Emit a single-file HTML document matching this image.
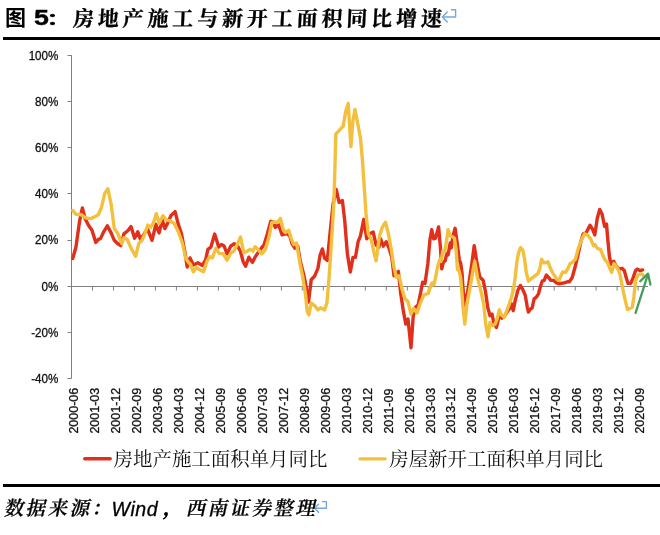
<!DOCTYPE html>
<html lang="zh"><head><meta charset="utf-8"><title>图 5</title>
<style>
html,body{margin:0;padding:0;background:#fff;}
body{width:660px;height:535px;position:relative;overflow:hidden;font-family:"Liberation Sans","Noto Sans CJK SC",sans-serif;}
.title{position:absolute;left:0;top:3px;height:30px;line-height:30px;white-space:nowrap;color:#000;}
.title span{position:absolute;top:0;}
.title .fig.five{font-size:22.3px;top:0.3px;transform:scaleX(1.2);transform-origin:0 50%;-webkit-text-stroke:0.4px #000;letter-spacing:0;}
.title .fig{font-family:"Liberation Sans","Noto Sans CJK SC",sans-serif;font-weight:bold;font-size:20px;letter-spacing:1.5px;}
.title .kai{font-family:"Liberation Serif","Noto Serif CJK SC",serif;font-weight:bold;font-size:21px;letter-spacing:3.85px;display:inline-block;transform:skewX(-3deg);transform-origin:0 50%;-webkit-text-stroke:0.3px #000;}
.rule{position:absolute;left:3px;right:0;height:2.8px;background:#000;}
.src{position:absolute;left:0;top:495px;height:28px;line-height:28px;white-space:nowrap;color:#000;font-family:"Liberation Serif","Noto Serif CJK SC",serif;font-size:19.5px;font-weight:600;letter-spacing:2.4px;}
.src span{position:absolute;top:0;}
.src .k{display:inline-block;transform:skewX(-12deg);transform-origin:0 50%;-webkit-text-stroke:0.25px #000;}
.src .w{font-family:"Liberation Sans",sans-serif;font-weight:normal;font-style:italic;font-size:19.6px;letter-spacing:0.5px;-webkit-text-stroke:0.3px #000;}
svg{position:absolute;left:0;top:0;}
svg text{font-family:"Liberation Sans",sans-serif;font-size:12.5px;fill:#111;stroke:#111;stroke-width:0.3px;}
svg .ax line{stroke:#808080;stroke-width:1;}
svg .leg text{font-family:"Liberation Serif","Noto Serif CJK SC",serif;font-size:19.45px;fill:#111;stroke:none;}
</style></head><body>
<div class="title"><span class="fig" style="left:5px;font-size:21px">图</span><span class="fig five" style="left:34.2px">5</span><span class="fig" style="left:47.2px;top:1.4px;font-size:15.2px;-webkit-text-stroke:0.6px #000;transform:scaleX(1.45);transform-origin:0 50%">：</span><span class="kai" style="left:72.6px;top:0.6px">房地产施工与新开工面积同比增速</span></div>
<div class="rule" style="top:37px"></div>
<svg width="660" height="535" viewBox="0 0 660 535">
<g class="ax">
<line x1="71.5" y1="55.2" x2="71.5" y2="378.6"/>
<line x1="71.5" y1="286.5" x2="648" y2="286.5"/>
<line x1="67.5" y1="55.5" x2="71.5" y2="55.5"/><line x1="67.5" y1="101.5" x2="71.5" y2="101.5"/><line x1="67.5" y1="147.5" x2="71.5" y2="147.5"/><line x1="67.5" y1="193.5" x2="71.5" y2="193.5"/><line x1="67.5" y1="240.5" x2="71.5" y2="240.5"/><line x1="67.5" y1="286.5" x2="71.5" y2="286.5"/><line x1="67.5" y1="332.5" x2="71.5" y2="332.5"/><line x1="67.5" y1="378.5" x2="71.5" y2="378.5"/>
<line x1="92.5" y1="286.5" x2="92.5" y2="290.5"/><line x1="113.5" y1="286.5" x2="113.5" y2="290.5"/><line x1="134.5" y1="286.5" x2="134.5" y2="290.5"/><line x1="155.4" y1="286.5" x2="155.4" y2="290.5"/><line x1="176.4" y1="286.5" x2="176.4" y2="290.5"/><line x1="197.4" y1="286.5" x2="197.4" y2="290.5"/><line x1="218.4" y1="286.5" x2="218.4" y2="290.5"/><line x1="239.4" y1="286.5" x2="239.4" y2="290.5"/><line x1="260.4" y1="286.5" x2="260.4" y2="290.5"/><line x1="281.4" y1="286.5" x2="281.4" y2="290.5"/><line x1="302.3" y1="286.5" x2="302.3" y2="290.5"/><line x1="323.3" y1="286.5" x2="323.3" y2="290.5"/><line x1="344.3" y1="286.5" x2="344.3" y2="290.5"/><line x1="365.3" y1="286.5" x2="365.3" y2="290.5"/><line x1="386.3" y1="286.5" x2="386.3" y2="290.5"/><line x1="407.3" y1="286.5" x2="407.3" y2="290.5"/><line x1="428.3" y1="286.5" x2="428.3" y2="290.5"/><line x1="449.2" y1="286.5" x2="449.2" y2="290.5"/><line x1="470.2" y1="286.5" x2="470.2" y2="290.5"/><line x1="491.2" y1="286.5" x2="491.2" y2="290.5"/><line x1="512.2" y1="286.5" x2="512.2" y2="290.5"/><line x1="533.2" y1="286.5" x2="533.2" y2="290.5"/><line x1="554.2" y1="286.5" x2="554.2" y2="290.5"/><line x1="575.2" y1="286.5" x2="575.2" y2="290.5"/><line x1="596.1" y1="286.5" x2="596.1" y2="290.5"/><line x1="617.1" y1="286.5" x2="617.1" y2="290.5"/><line x1="638.1" y1="286.5" x2="638.1" y2="290.5"/>
</g>
<g class="yl"><text transform="translate(58.4,59.5) scale(0.955,1)" text-anchor="end" style="font-size:12.2px">100%</text><text transform="translate(58.4,105.7) scale(0.955,1)" text-anchor="end" style="font-size:12.2px">80%</text><text transform="translate(58.4,151.9) scale(0.955,1)" text-anchor="end" style="font-size:12.2px">60%</text><text transform="translate(58.4,198.1) scale(0.955,1)" text-anchor="end" style="font-size:12.2px">40%</text><text transform="translate(58.4,244.3) scale(0.955,1)" text-anchor="end" style="font-size:12.2px">20%</text><text transform="translate(58.4,290.5) scale(0.955,1)" text-anchor="end" style="font-size:12.2px">0%</text><text transform="translate(58.4,336.7) scale(0.955,1)" text-anchor="end" style="font-size:12.2px">-20%</text><text transform="translate(58.4,382.9) scale(0.955,1)" text-anchor="end" style="font-size:12.2px">-40%</text></g>
<g class="xl"><text transform="translate(77.7,433.6) rotate(-90)">2000-06</text><text transform="translate(98.7,433.6) rotate(-90)">2001-03</text><text transform="translate(119.7,433.6) rotate(-90)">2001-12</text><text transform="translate(140.7,433.6) rotate(-90)">2002-09</text><text transform="translate(161.6,433.6) rotate(-90)">2003-06</text><text transform="translate(182.6,433.6) rotate(-90)">2004-03</text><text transform="translate(203.6,433.6) rotate(-90)">2004-12</text><text transform="translate(224.6,433.6) rotate(-90)">2005-09</text><text transform="translate(245.6,433.6) rotate(-90)">2006-06</text><text transform="translate(266.6,433.6) rotate(-90)">2007-03</text><text transform="translate(287.6,433.6) rotate(-90)">2007-12</text><text transform="translate(308.5,433.6) rotate(-90)">2008-09</text><text transform="translate(329.5,433.6) rotate(-90)">2009-06</text><text transform="translate(350.5,433.6) rotate(-90)">2010-03</text><text transform="translate(371.5,433.6) rotate(-90)">2010-12</text><text transform="translate(392.5,433.6) rotate(-90)">2011-09</text><text transform="translate(413.5,433.6) rotate(-90)">2012-06</text><text transform="translate(434.5,433.6) rotate(-90)">2013-03</text><text transform="translate(455.4,433.6) rotate(-90)">2013-12</text><text transform="translate(476.4,433.6) rotate(-90)">2014-09</text><text transform="translate(497.4,433.6) rotate(-90)">2015-06</text><text transform="translate(518.4,433.6) rotate(-90)">2016-03</text><text transform="translate(539.4,433.6) rotate(-90)">2016-12</text><text transform="translate(560.4,433.6) rotate(-90)">2017-09</text><text transform="translate(581.4,433.6) rotate(-90)">2018-06</text><text transform="translate(602.4,433.6) rotate(-90)">2019-03</text><text transform="translate(623.3,433.6) rotate(-90)">2019-12</text><text transform="translate(644.3,433.6) rotate(-90)">2020-09</text></g>
<polyline fill="none" stroke="#e0301c" stroke-width="3.4" stroke-linejoin="round" stroke-linecap="round" points="72.8,258.4 76.0,246.7 79.6,221.1 82.4,207.9 85.1,218.6 88.8,225.8 92.0,230.3 95.8,242.4 98.4,239.3 100.5,238.6 103.7,231.8 107.3,225.8 111.1,232.9 114.3,240.3 117.5,243.5 120.7,245.6 123.9,233.9 127.8,230.7 131.0,226.5 134.6,238.2 137.8,231.8 140.5,239.3 144.2,233.9 147.4,228.6 152.0,240.3 155.9,224.3 159.1,232.9 162.3,220.1 164.8,228.6 167.6,223.3 170.8,215.8 175.1,211.6 178.3,224.3 181.5,233.9 184.7,251.0 187.2,267.0 190.0,257.9 193.4,265.0 197.9,262.8 202.3,265.5 205.7,259.5 207.9,249.4 210.9,247.1 214.7,234.1 218.7,247.1 221.4,244.4 224.1,246.0 227.0,253.8 230.8,246.0 234.2,243.8 237.1,244.9 240.5,251.6 243.2,261.7 245.6,266.2 248.8,257.2 252.4,262.4 255.1,257.2 258.4,252.1 261.3,248.2 264.0,244.9 267.4,233.7 270.8,221.3 273.5,222.4 275.3,227.4 278.6,224.7 282.0,234.8 286.9,233.7 289.8,235.9 292.1,243.8 295.0,248.2 297.7,246.0 300.4,261.7 303.3,272.9 305.5,283.0 308.5,302.1 311.2,279.7 314.5,276.3 317.9,268.4 320.1,255.0 322.4,248.9 324.6,258.3 327.3,260.5 330.1,232.7 333.0,204.7 336.2,189.4 339.1,202.4 342.4,200.6 344.7,220.4 347.4,254.0 350.3,272.0 353.0,257.4 355.4,257.4 358.1,241.7 360.4,236.1 363.8,219.3 366.7,238.8 369.8,233.8 373.2,232.1 376.1,245.1 378.8,247.3 380.6,238.8 383.3,246.2 386.2,241.7 389.1,248.4 391.8,257.4 394.0,275.9 396.2,273.7 398.4,271.4 400.6,292.7 403.1,309.6 405.8,324.1 408.0,319.0 411.0,347.7 413.2,316.3 415.4,307.3 418.1,305.1 420.4,293.8 422.6,282.2 425.0,283.6 427.8,264.0 429.9,240.2 431.7,229.7 433.7,238.8 435.5,238.1 438.6,226.9 440.4,247.2 441.8,268.9 443.2,262.6 445.3,260.5 446.7,253.5 448.1,254.9 450.2,243.0 451.2,247.9 453.0,236.0 455.1,228.3 457.2,243.0 459.3,259.8 460.7,263.3 462.1,273.8 463.1,290.0 464.8,305.1 467.5,292.7 469.7,278.1 472.0,262.4 474.2,245.6 476.9,262.4 479.8,277.0 483.2,280.4 485.5,291.6 487.7,307.3 490.0,315.7 492.0,314.0 493.7,322.4 496.4,327.5 498.4,319.1 500.1,314.0 501.8,318.2 504.3,316.5 506.8,312.3 509.3,309.0 511.5,303.9 513.2,310.7 515.2,300.6 517.8,290.5 520.3,285.4 522.8,289.6 525.3,295.5 527.3,307.3 528.4,312.0 530.4,309.0 532.1,308.1 534.1,298.9 536.3,297.2 538.5,293.8 540.5,286.3 542.2,281.2 544.2,280.4 546.4,275.0 548.9,277.9 550.9,280.4 553.9,280.4 556.5,282.9 559.0,283.7 564.0,282.9 568.2,281.7 569.3,281.9 572.2,277.5 574.9,267.8 577.8,255.7 580.7,242.3 583.2,233.8 586.3,232.6 590.0,225.3 592.4,228.9 594.8,235.0 597.3,218.0 599.7,209.5 602.1,214.3 604.6,226.5 606.5,224.0 607.4,235.0 609.3,255.6 610.9,264.4 613.7,261.2 615.6,265.2 618.8,269.1 622.0,268.3 624.4,270.7 626.0,277.1 628.0,283.4 630.7,283.4 633.1,277.9 635.5,270.7 637.5,269.1 640.2,270.7 642.6,269.9"/>
<polyline fill="none" stroke="#f3c03e" stroke-width="3.4" stroke-linejoin="round" stroke-linecap="round" points="72.8,210.5 76.0,214.3 81.3,214.7 85.6,217.9 90.9,218.6 95.2,216.5 98.4,214.7 101.5,207.3 104.7,193.4 107.9,188.8 111.1,204.1 114.3,228.6 117.5,232.9 121.8,243.5 123.9,237.8 127.1,239.3 131.4,248.8 135.6,256.3 138.8,243.5 142.0,240.3 144.8,233.9 147.8,225.0 150.5,227.5 153.3,223.3 156.3,213.7 159.1,223.3 162.9,215.8 166.5,220.1 169.7,220.7 174.0,223.3 178.3,231.8 182.5,243.5 185.7,258.4 188.9,262.7 190.5,264.5 193.4,271.8 196.3,267.3 200.1,270.0 203.5,271.8 206.8,261.7 209.7,256.5 212.4,257.9 215.8,248.2 219.2,253.4 223.2,253.8 227.0,260.1 230.4,253.8 234.2,250.5 237.6,243.8 240.5,237.0 243.8,252.7 247.2,251.2 250.1,249.4 252.8,251.2 255.1,246.7 258.4,249.8 261.8,253.8 265.2,249.8 269.0,237.0 271.9,222.4 274.8,222.0 277.5,222.4 280.4,218.4 283.1,229.2 285.4,232.5 288.7,230.3 291.0,238.1 293.7,244.4 296.6,243.1 299.9,262.8 302.6,276.3 305.5,294.2 307.1,311.1 308.9,314.9 311.2,303.2 314.5,305.5 317.9,309.9 320.6,307.7 324.6,309.9 326.9,303.0 329.0,278.7 331.7,238.3 333.9,202.4 334.8,172.3 335.8,134.2 339.5,130.1 343.2,126.0 345.7,111.6 348.2,103.4 350.9,146.6 352.9,120.9 355.0,109.5 358.0,125.0 360.5,138.3 362.6,162.0 363.8,180.5 366.0,213.7 368.2,233.8 371.2,239.5 373.8,251.8 376.1,260.8 379.5,236.1 382.4,227.1 385.5,222.2 388.4,233.8 391.2,249.0 393.9,266.9 396.2,277.0 399.1,275.9 401.8,288.2 404.7,298.3 408.0,301.7 411.0,314.0 413.7,308.4 417.0,312.9 420.4,302.8 423.8,295.0 428.2,293.4 430.6,286.4 432.0,282.9 433.7,285.0 435.5,278.0 437.6,266.8 439.7,259.8 441.1,261.2 442.9,250.7 444.6,252.1 446.0,244.4 448.1,229.7 450.2,236.0 452.3,236.7 454.4,238.1 456.1,250.0 457.5,269.6 459.3,271.0 460.7,278.0 461.7,290.0 463.0,307.3 464.8,324.1 467.0,303.9 469.7,289.4 472.4,273.7 474.7,261.3 477.6,278.1 480.5,289.4 483.7,303.9 485.9,325.3 488.1,336.9 490.0,322.4 492.5,325.8 495.0,324.1 497.1,319.1 499.3,309.8 501.4,314.9 504.3,317.4 506.8,310.7 509.3,303.9 511.5,297.2 513.6,288.8 515.2,277.0 516.9,261.9 518.6,252.6 520.6,247.6 522.8,250.1 524.5,258.5 526.2,272.0 528.4,281.2 531.2,278.7 534.6,276.2 537.9,273.6 540.0,267.8 541.6,259.3 543.5,262.7 545.5,262.7 548.0,261.9 550.2,267.8 552.6,272.8 554.8,276.2 557.0,279.5 559.0,280.4 560.7,276.2 562.7,272.0 565.7,272.3 568.2,267.8 570.1,263.6 571.7,262.9 575.4,259.3 578.3,248.4 581.5,239.8 584.6,233.8 587.5,235.0 590.5,238.6 593.6,245.9 595.0,244.5 597.4,248.5 600.6,249.3 602.9,255.6 605.3,260.4 607.7,262.8 610.1,269.1 611.7,272.3 614.0,263.6 616.4,266.7 618.8,270.7 620.4,276.3 622.8,289.0 625.2,300.1 627.5,309.6 632.3,307.2 633.9,296.9 635.5,281.0 637.5,275.5 639.4,274.4 641.8,273.9 643.0,275.1"/>
<g fill="none" stroke="#469b58" stroke-width="2.3" stroke-linecap="round" stroke-linejoin="round">
<line x1="635.6" y1="312.8" x2="647.9" y2="274.5"/>
<polyline points="640.2,281.3 648,273.6 650.4,284.6"/>
</g>
<g fill="none" stroke="#74a8de" stroke-width="1.4" stroke-linejoin="round" stroke-linecap="round">
<polyline points="451.5,9.8 455.6,9.8 455.6,17 442.6,17"/><polyline points="447.3,12.1 442.3,17 447.3,22"/>
<polyline points="322.6,501.6 326.4,501.6 326.4,508.2 314.8,508.2"/><polyline points="318.6,504.2 314.5,508.2 318.6,512.3"/>
</g>
<g class="leg">
<line x1="84.7" y1="458.8" x2="110.2" y2="458.8" stroke="#e0301c" stroke-width="3.4" stroke-linecap="round"/>
<text x="113.6" y="465.5">房地产施工面积单月同比</text>
<line x1="360" y1="458.8" x2="385.2" y2="458.8" stroke="#f3c03e" stroke-width="3.2" stroke-linecap="round"/>
<text x="389.2" y="465.5">房屋新开工面积单月同比</text>
</g>
</svg>
<div class="rule" style="top:484.3px;height:2.6px"></div>
<div class="src"><span class="k" style="left:5px">数据来源：</span><span class="w" style="left:111.6px">Wind</span><span class="k" style="left:163.5px;-webkit-text-stroke:0.7px #000">，</span><span class="k" style="left:187px">西南证券整理</span></div>
</body></html>
